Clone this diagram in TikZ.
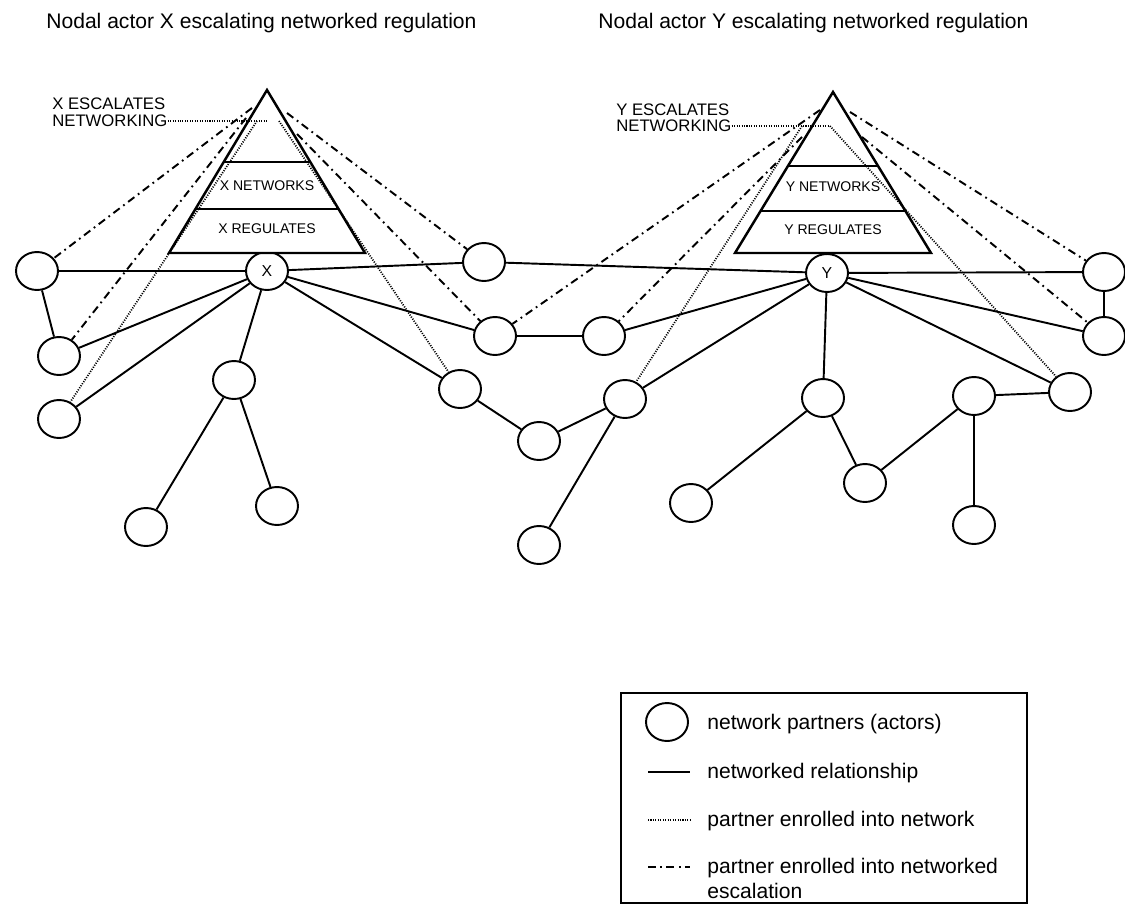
\documentclass[tikz,border=0pt]{standalone}
\usepackage{fontspec}
\setmainfont{Liberation Sans}
\usetikzlibrary{positioning,shapes.geometric}

\begin{document}
\begin{tikzpicture}[
  x=0.02cm, y=-0.02cm,
  actor/.style={draw,ellipse,line width=1.1pt,minimum width=0.84cm,minimum height=0.76cm,inner sep=0pt,fill=white,font=\fontsize{9}{10}\selectfont},
  tie/.style={line width=1.1pt},
  enrol/.style={line width=1pt,dash pattern=on 0.6pt off 0.8pt},
  escal/.style={line width=1.1pt,dash pattern=on 4.5pt off 2.5pt on 1pt off 2.5pt},
  pyr/.style={draw,line width=1.4pt,fill=white},
  lvl/.style={font=\fontsize{8}{9}\selectfont,inner sep=0pt},
  lab/.style={font=\fontsize{9.5}{10}\selectfont,inner sep=0pt,anchor=west},
  ttl/.style={font=\fontsize{12}{14}\selectfont,inner sep=0pt,anchor=base west},
  key/.style={font=\fontsize{12}{14}\selectfont,inner sep=0pt,anchor=base west}
]
\useasboundingbox (0,0) rectangle (1125,906);

\node[ttl] (tx) at (46,29) {Nodal actor X escalating networked regulation};
\node[ttl] (ty) at (598,29) {Nodal actor Y escalating networked regulation};

% actors
\node[actor] (l1) at (37,271) {};
\node[actor] (l2) at (59,356) {};
\node[actor] (l3) at (59,419) {};
\node[actor] (x) at (267,271) {X};
\node[actor] (m1) at (234,380) {};
\node[actor] (m2) at (146,527) {};
\node[actor] (m3) at (277,506) {};
\node[actor] (t1) at (484,262) {};
\node[actor] (c1) at (495,336) {};
\node[actor] (c2) at (604,336) {};
\node[actor] (n1) at (460,389) {};
\node[actor] (n2) at (539,441) {};
\node[actor] (c3) at (625,399) {};
\node[actor] (b1) at (539,545) {};
\node[actor] (y) at (827,273) {Y};
\node[actor] (y1) at (823,398) {};
\node[actor] (b2) at (691,503) {};
\node[actor] (b3) at (865,483) {};
\node[actor] (b4) at (974,396) {};
\node[actor] (b5) at (974,525) {};
\node[actor] (r1) at (1104,272) {};
\node[actor] (r2) at (1104,336) {};
\node[actor] (r3) at (1070,392) {};

% pyramids
\draw[pyr] (267,90) -- (365,253) -- (169,253) -- cycle;
\draw[tie] (224,162) -- (310,162) (196,209) -- (338,209);
\node[lvl] (xnw) at (267,186) {X NETWORKS};
\node[lvl] (xrg) at (267,229) {X REGULATES};

\draw[pyr] (833,92) -- (931,253) -- (735,253) -- cycle;
\draw[tie] (788,166) -- (878,166) (761,211) -- (905,211);
\node[lvl] (ynw) at (833,187) {Y NETWORKS};
\node[lvl] (yrg) at (833,230) {Y REGULATES};

\node[lab] (xesc) at (52,104) {X ESCALATES};
\node[lab] (xnet) at (52,121) {NETWORKING};
\node[lab] (yesc) at (616,110) {Y ESCALATES};
\node[lab] (ynet) at (616,126) {NETWORKING};

\coordinate (xlead) at (267,121);
\coordinate (ylead) at (828,126);
\coordinate (xe1) at (252,108);
\coordinate (xe2) at (246,118);
\coordinate (xe3) at (287,113);
\coordinate (xe4) at (297,134);
\coordinate (xn1) at (257,121);
\coordinate (xn2) at (279,121);
\coordinate (ye1) at (820,110);
\coordinate (ye2) at (802,137);
\coordinate (ye3) at (850,112);
\coordinate (ye4) at (862,137);
\coordinate (yn1) at (802,126);
\coordinate (yn2) at (830,126);

\path[tie]
% X side
(l1) edge (x)
(x) edge (t1)
(l1) edge (l2)
(x) edge (l2)
(x) edge (l3)
(x) edge (m1)
(m1) edge (m2)
(m1) edge (m3)
(x) edge (c1)
(x) edge (n1)
(n1) edge (n2)
(c1) edge (c2)
% Y side
(t1) edge (y)
(y) edge (r1)
(c2) edge (y)
(n2) edge (c3)
(c3) edge (y)
(c3) edge (b1)
(y) edge (y1)
(y1) edge (b2)
(y1) edge (b3)
(b3) edge (b4)
(b4) edge (b5)
(b4) edge (r3)
(y) edge (r3)
(y) edge (r2)
(r1) edge (r2);

% escalation
\path[escal]
(xe1) edge (l1)
(xe2) edge (l2)
(xe3) edge (t1)
(xe4) edge (c1)
(ye1) edge (c1)
(ye2) edge (c2)
(ye3) edge (r1)
(ye4) edge (r2);

% enrolment
\path[enrol]
(xnet.east) edge (xlead)
(ynet.east) edge (ylead)
(xn1) edge (l3)
(xn2) edge (n1)
(yn1) edge (c3)
(yn2) edge (r3);

% key
\draw[line width=1.1pt] (621,693) rectangle (1027,903);
\node[actor] (kact) at (667,722) {};
\node[key] (k1) at (707,729) {network partners (actors)};
\node[key] (k2) at (707,778) {networked relationship};
\node[key] (k3) at (707,826) {partner enrolled into network};
\node[key] (k4) at (707,873) {partner enrolled into networked};
\node[key] (k5) at (707,898) {escalation};
\coordinate (ka2) at (648,772);
\coordinate (kb2) at (690,772);
\coordinate (ka3) at (648,820);
\coordinate (kb3) at (690,820);
\coordinate (ka4) at (648,867);
\coordinate (kb4) at (690,867);
\draw[tie] (ka2) -- (kb2);
\draw[enrol] (ka3) -- (kb3);
\draw[escal] (ka4) -- (kb4);

\end{tikzpicture}
\end{document}
